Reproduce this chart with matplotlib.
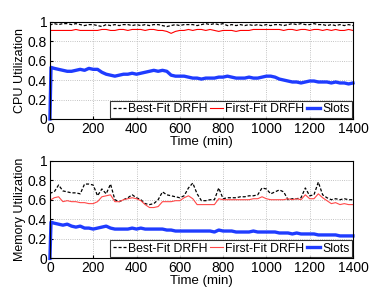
import numpy as np
import matplotlib
matplotlib.use('Agg')
import matplotlib.pyplot as plt

plt.rcParams['font.family'] = ['Liberation Sans', 'DejaVu Sans']

# time grid (min)
t = [0, 5] + list(range(20, 1401, 20))

cpu_best = [0.96, 0.97, 0.98, 0.97, 0.98, 0.98, 0.97, 0.98, 0.97, 0.96, 0.97,
            0.97, 0.96, 0.95, 0.97, 0.96, 0.97, 0.96, 0.97, 0.97, 0.96, 0.97,
            0.96, 0.97, 0.96, 0.97, 0.97, 0.96, 0.95, 0.96, 0.97, 0.96,
            0.97, 0.97, 0.97, 0.96, 0.97, 0.98, 0.97, 0.98, 0.97, 0.98,
            0.96, 0.97, 0.96, 0.97, 0.96, 0.97, 0.96, 0.97, 0.96, 0.97,
            0.96, 0.97, 0.97, 0.96, 0.97, 0.98, 0.97, 0.98, 0.97, 0.97,
            0.98, 0.97, 0.97, 0.96, 0.97, 0.96, 0.97, 0.96, 0.97, 0.96]
cpu_first = [0.90, 0.91, 0.91, 0.91, 0.91, 0.91, 0.91, 0.92, 0.91, 0.91, 0.91,
             0.91, 0.91, 0.92, 0.92, 0.91, 0.91, 0.92, 0.92, 0.91, 0.92, 0.92,
             0.92, 0.91, 0.92, 0.92, 0.91, 0.91, 0.90, 0.88, 0.90, 0.91,
             0.91, 0.92, 0.91, 0.92, 0.92, 0.91, 0.92, 0.91, 0.90, 0.91,
             0.91, 0.91, 0.90, 0.91, 0.91, 0.91, 0.92, 0.92, 0.92, 0.92,
             0.92, 0.92, 0.92, 0.91, 0.92, 0.92, 0.91, 0.92, 0.92, 0.91,
             0.92, 0.92, 0.91, 0.92, 0.91, 0.92, 0.91, 0.91, 0.92, 0.91]
cpu_slots = [0.0, 0.53, 0.52, 0.51, 0.50, 0.49, 0.49, 0.50, 0.51, 0.50, 0.52,
             0.51, 0.51, 0.48, 0.46, 0.45, 0.44, 0.45, 0.46, 0.46, 0.47, 0.46,
             0.47, 0.48, 0.49, 0.50, 0.49, 0.50, 0.49, 0.45, 0.44, 0.44,
             0.44, 0.43, 0.42, 0.42, 0.41, 0.42, 0.42, 0.42, 0.43, 0.43,
             0.44, 0.43, 0.42, 0.42, 0.42, 0.43, 0.42, 0.42, 0.43, 0.44,
             0.44, 0.43, 0.41, 0.40, 0.39, 0.38, 0.38, 0.37, 0.38, 0.39,
             0.39, 0.38, 0.38, 0.38, 0.37, 0.38, 0.37, 0.37, 0.36, 0.37]

mem_best = [0.66, 0.67, 0.68, 0.75, 0.69, 0.68, 0.67, 0.67, 0.66, 0.76, 0.76,
            0.75, 0.64, 0.71, 0.66, 0.76, 0.60, 0.58, 0.60, 0.62, 0.65, 0.62,
            0.60, 0.56, 0.55, 0.56, 0.60, 0.68, 0.65, 0.64, 0.63, 0.62,
            0.64, 0.72, 0.77, 0.66, 0.59, 0.59, 0.60, 0.60, 0.72, 0.61,
            0.62, 0.62, 0.62, 0.63, 0.63, 0.64, 0.64, 0.65, 0.72, 0.71,
            0.66, 0.68, 0.70, 0.68, 0.60, 0.61, 0.61, 0.62, 0.72, 0.64,
            0.65, 0.78, 0.65, 0.62, 0.60, 0.61, 0.60, 0.61, 0.60, 0.60]
mem_first = [0.59, 0.60, 0.62, 0.63, 0.58, 0.59, 0.58, 0.58, 0.57, 0.57, 0.56,
             0.56, 0.58, 0.63, 0.64, 0.65, 0.58, 0.58, 0.60, 0.61, 0.62, 0.61,
             0.59, 0.55, 0.52, 0.52, 0.53, 0.58, 0.58, 0.58, 0.59, 0.59,
             0.62, 0.64, 0.61, 0.55, 0.55, 0.55, 0.55, 0.55, 0.61, 0.60,
             0.60, 0.60, 0.60, 0.60, 0.60, 0.60, 0.61, 0.61, 0.63, 0.61,
             0.60, 0.60, 0.60, 0.60, 0.61, 0.60, 0.61, 0.60, 0.65, 0.61,
             0.61, 0.66, 0.62, 0.59, 0.56, 0.57, 0.55, 0.56, 0.55, 0.55]
mem_slots = [0.0, 0.37, 0.36, 0.35, 0.34, 0.35, 0.33, 0.32, 0.33, 0.31, 0.31,
             0.30, 0.31, 0.32, 0.33, 0.31, 0.30, 0.30, 0.30, 0.30, 0.31, 0.30,
             0.31, 0.30, 0.30, 0.30, 0.30, 0.30, 0.29, 0.29, 0.28, 0.28,
             0.28, 0.28, 0.28, 0.28, 0.28, 0.28, 0.28, 0.27, 0.29, 0.28,
             0.28, 0.28, 0.27, 0.27, 0.27, 0.27, 0.28, 0.27, 0.27, 0.27,
             0.27, 0.27, 0.26, 0.26, 0.26, 0.25, 0.26, 0.25, 0.25, 0.25,
             0.25, 0.24, 0.24, 0.24, 0.24, 0.24, 0.23, 0.23, 0.23, 0.23]

labels = ['Best-Fit DRFH', 'First-Fit DRFH', 'Slots']
xticks = [0, 200, 400, 600, 800, 1000, 1200, 1400]
yticks = [0, 0.2, 0.4, 0.6, 0.8, 1]
yticklabels = ['0', '0.2', '0.4', '0.6', '0.8', '1']

fig = plt.figure(figsize=(3.9, 2.93), dpi=100)
ax1 = fig.add_axes([0.128, 0.594, 0.777, 0.332])
ax2 = fig.add_axes([0.128, 0.118, 0.777, 0.334])


def draw(ax, best, first, slots, ylabel, red):
    ax.plot(t, best, color='k', ls='--', lw=0.9, dashes=(2.5, 1.5), label=labels[0])
    ax.plot(t, first, color=red, lw=0.8, label=labels[1])
    ax.plot(t, slots, color='#1f3cff', lw=2.4, label=labels[2], clip_on=False)
    ax.set_xlim(0, 1400)
    ax.set_ylim(0, 1)
    ax.set_xticks(xticks)
    ax.set_yticks(yticks)
    ax.set_yticklabels(yticklabels)
    ax.tick_params(direction='in', length=2.5, labelsize=10, pad=2)
    ax.grid(True, ls=':', color='#b0b0b0', lw=0.6)
    ax.set_xlabel('Time (min)', fontsize=9.5, labelpad=0)
    ax.set_ylabel(ylabel, fontsize=9, labelpad=1)
    leg = ax.legend(loc='lower right', ncol=3, fontsize=8.8, frameon=True,
                    fancybox=False, edgecolor='k', handlelength=1.1,
                    handletextpad=0.15, columnspacing=0.2, borderpad=0.2,
                    borderaxespad=0.1)
    leg.get_frame().set_linewidth(0.8)


draw(ax1, cpu_best, cpu_first, cpu_slots, 'CPU Utilization', 'r')
draw(ax2, mem_best, mem_first, mem_slots, 'Memory Utilization', '#ff4848')

fig.savefig('out.png', dpi=100)
